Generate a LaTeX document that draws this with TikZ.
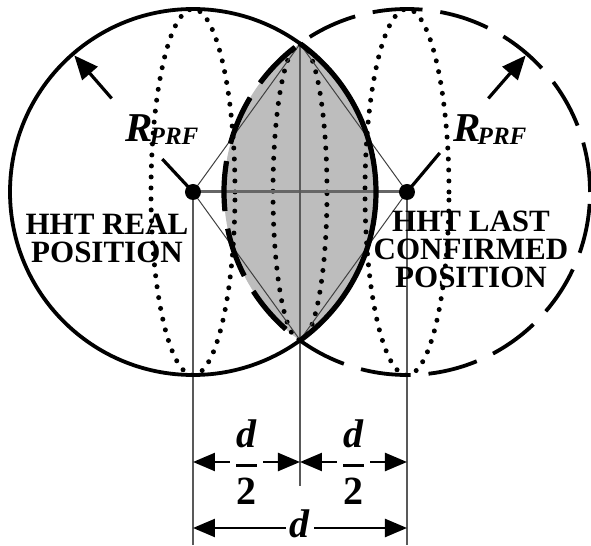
\documentclass[tikz,border=0pt]{standalone}
\usepackage{amsmath}
\usepackage{fontspec}
\setmainfont{Liberation Serif}
\usetikzlibrary{calc,arrows.meta}

\newcommand{\rprf}{{\fontsize{20.5}{20}\selectfont\bfseries\itshape R\kern-1.5pt\raisebox{-1.5pt}{\fontsize{12.5}{12}\selectfont PRF}}}

\begin{document}
\begin{tikzpicture}[
  x=0.5pt, y=0.5pt,
  ring/.style={line width=1.9pt},
  dashring/.style={line width=1.9pt, dash pattern=on 25pt off 9pt},
  merid/.style={line width=2.5pt, line cap=round, dash pattern=on 0pt off 5.5pt},
  lens/.style={fill=black!26},
  ctr/.style={circle, fill=black, inner sep=0pt, minimum size=8pt},
  link/.style={black!75, line width=0.5pt},
  axisln/.style={black!60, line width=1.5pt},
  ext/.style={black!65, line width=0.9pt},
  rad/.style={line width=1.6pt},
  radarr/.style={-{Triangle[length=12pt,width=10pt]}, line width=1.6pt},
  dim/.style={{Triangle[length=11pt,width=9pt]}-{Triangle[length=11pt,width=9pt]}, line width=1.2pt},
  lbl/.style={font=\fontsize{15.5}{14}\selectfont\bfseries, align=center, inner sep=0pt},
  dimlbl/.style={fill=white, inner sep=2pt, font=\fontsize{20}{22}\selectfont},
]
\useasboundingbox (-300,192) rectangle (291,-354);

%% --- Centres and crossing points -----------------------------------
\coordinate (Lc)  at (-107,0);
\coordinate (Rc)  at (107,0);
\coordinate (Mid) at (0,0);
\coordinate (Top) at (0,148);
\coordinate (Bot) at (0,-148);

%% --- Overlap region --------------------------------------------------
\begin{scope}
  \clip (Lc) circle (183);
  \fill[lens] (Rc) circle (183);
\end{scope}

%% --- Dotted meridians -----------------------------------------------
\draw[merid] (Lc)  ellipse [x radius=42, y radius=183];
\draw[merid] (Rc)  ellipse [x radius=42, y radius=183];
\draw[merid] (Mid) ellipse [x radius=27, y radius=148];

%% --- Construction lines ---------------------------------------------
\draw[link] (Top) -- (Lc) -- (Bot) -- (Rc) -- cycle;
\draw[axisln] (Lc) -- (Rc);

\coordinate (Lfoot) at (-107,-353);
\coordinate (Mfoot) at (0,-294);
\coordinate (Rfoot) at (107,-353);
\draw[ext] (Lc)  -- (Lfoot);
\draw[ext] (Top) -- (Mfoot);
\draw[ext] (Rc)  -- (Rfoot);

%% --- Circles ----------------------------------------------------------
\draw[ring]     (Lc) circle (183);
\draw[dashring] (Rc) circle (183);

% heavier edges round the overlap
\begin{scope}
  \clip (Rc) circle (183);
  \draw[ring, line width=2.6pt] (Lc) circle (183);
\end{scope}
\begin{scope}
  \clip (Lc) circle (183);
  \draw[dashring, line width=2.6pt] (Rc) circle (183);
\end{scope}

\node[ctr] (Ldot) at (Lc) {};
\node[ctr] (Rdot) at (Rc) {};

%% --- Radius markers ---------------------------------------------------
\coordinate (Lin)  at ($(Lc)+(133:45)$);
\coordinate (Lout) at ($(Lc)+(131:124)$);
\coordinate (Ltip) at ($(Lc)+(131:181)$);
\coordinate (Rin)  at ($(Rc)+(50:51)$);
\coordinate (Rout) at ($(Rc)+(49:124)$);
\coordinate (Rtip) at ($(Rc)+(49:181)$);

\draw[rad]    (Ldot.center) -- (Lin);
\draw[radarr] (Lout) -- (Ltip);
\draw[rad]    (Rdot.center) -- (Rin);
\draw[radarr] (Rout) -- (Rtip);

\node[anchor=base west, inner sep=0pt] (rl) at (-175,50) {\rprf};
\node[anchor=base west, inner sep=0pt] (rr) at (153,50)  {\rprf};

%% --- Position labels --------------------------------------------------
\node[lbl] (real) at (-193,-46) {HHT REAL\\POSITION};
\node[lbl] (last) at (171,-57)  {HHT LAST\\CONFIRMED\\POSITION};

%% --- Dimensions -------------------------------------------------------
\coordinate (L2) at (-107,-270);
\coordinate (M2) at (0,-270);
\coordinate (R2) at (107,-270);
\coordinate (L1) at (-107,-336);
\coordinate (R1) at (107,-336);

\draw[dim] (L2) -- node[dimlbl]{$\genfrac{}{}{1.4pt}{0}{\textbf{\textit{d}}}{\textbf{2}}$} (M2);
\draw[dim] (M2) -- node[dimlbl]{$\genfrac{}{}{1.4pt}{0}{\textbf{\textit{d}}}{\textbf{2}}$} (R2);
\draw[dim] (L1) -- node[dimlbl, yshift=2pt]{\textbf{\textit{d}}} (R1);

\end{tikzpicture}
\end{document}
